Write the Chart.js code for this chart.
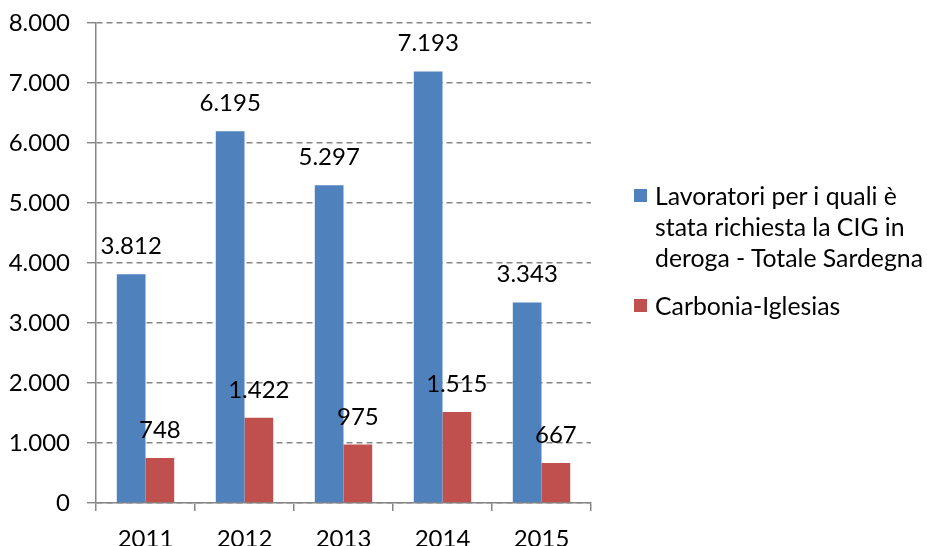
<!DOCTYPE html>
<html>
<head>
<meta charset="utf-8">
<script src="https://cdn.jsdelivr.net/npm/chart.js@4/dist/chart.umd.min.js"></script>
<style>
  html, body { margin: 0; padding: 0; background: #fff; }
  #wrap { position: relative; width: 927px; height: 546px; }
  #legend { position: absolute; left: 634px; top: 0; font-family: Lato, sans-serif; font-size: 24.8px; color: #000; }
  .item { position: absolute; left: 0; white-space: nowrap; }
  .box { position: absolute; left: 0; width: 13px; height: 13px; }
  .txt { position: absolute; left: 21px; line-height: 31px; }
</style>
</head>
<body>
<div id="wrap">
  <canvas id="cigChart" width="927" height="546"></canvas>
  <div id="legend"></div>
</div>
<script>
const years = ['2011', '2012', '2013', '2014', '2015'];
const sardegna = [3812, 6195, 5297, 7193, 3343];
const carbonia = [748, 1422, 975, 1515, 667];
const seriesNames = [
    ['Lavoratori per i quali è', 'stata richiesta la CIG in', 'deroga - Totale Sardegna'],
    ['Carbonia-Iglesias']
];
const seriesColors = ['#4F81BD', '#C0504D'];

// thousands separator with a dot, like the original
const fmt = (v) => String(Math.round(v)).replace(/\B(?=(\d{3})+(?!\d))/g, '.');

const FONT = 'Lato, sans-serif';
const GRID = '#868686';

const valueLabels = {
    id: 'valueLabels',
    afterDatasetsDraw(chart) {
        const ctx = chart.ctx;
        ctx.save();
        ctx.font = '24px ' + FONT;
        ctx.fillStyle = '#000';
        ctx.textAlign = 'center';
        ctx.textBaseline = 'alphabetic';
        chart.data.datasets.forEach((ds, i) => {
            chart.getDatasetMeta(i).data.forEach((bar, j) => {
                ctx.fillText(fmt(ds.data[j]), bar.x, bar.y - 20);
            });
        });
        ctx.restore();
    }
};

new Chart(document.getElementById('cigChart').getContext('2d'), {
    type: 'bar',
    data: {
        labels: years,
        datasets: [
            { label: seriesNames[0].join(' '), data: sardegna, backgroundColor: seriesColors[0] },
            { label: seriesNames[1].join(' '), data: carbonia, backgroundColor: seriesColors[1] }
        ]
    },
    options: {
        responsive: false,
        animation: false,
        layout: { padding: { top: 23, right: 336, left: 0, bottom: 0 } },
        datasets: { bar: { categoryPercentage: 0.58, barPercentage: 1 } },
        plugins: { legend: { display: false }, tooltip: { enabled: false } },
        scales: {
            x: {
                afterFit: (s) => { s.height = 43; },
                grid: { drawOnChartArea: false, drawTicks: true, tickLength: 8, color: GRID, lineWidth: 1.5, offset: true },
                border: { color: GRID, width: 1.5 },
                ticks: { color: '#000', font: { family: FONT, size: 24 }, padding: 14 }
            },
            y: {
                min: 0,
                max: 8000,
                afterFit: (s) => { s.width = 96; s.paddingTop = 0; s.paddingBottom = 0; },
                grid: { color: GRID, lineWidth: 1.4, tickLength: 9, tickBorderDash: [], tickColor: GRID },
                border: { color: GRID, width: 1.5, dash: [6, 4] },
                ticks: { stepSize: 1000, color: '#000', font: { family: FONT, size: 24 }, padding: 17, callback: (v) => fmt(v) }
            }
        }
    },
    plugins: [valueLabels]
});

// legend drawn as html text next to the plot
const legend = document.getElementById('legend');
const legendTops = [180, 290];
seriesNames.forEach((lines, i) => {
    const item = document.createElement('div');
    item.className = 'item';
    item.style.top = legendTops[i] + 'px';
    const box = document.createElement('div');
    box.className = 'box';
    box.style.top = '9px';
    box.style.background = seriesColors[i];
    const txt = document.createElement('div');
    txt.className = 'txt';
    txt.innerHTML = lines.join('<br>');
    item.appendChild(box);
    item.appendChild(txt);
    legend.appendChild(item);
});
</script>
</body>
</html>
